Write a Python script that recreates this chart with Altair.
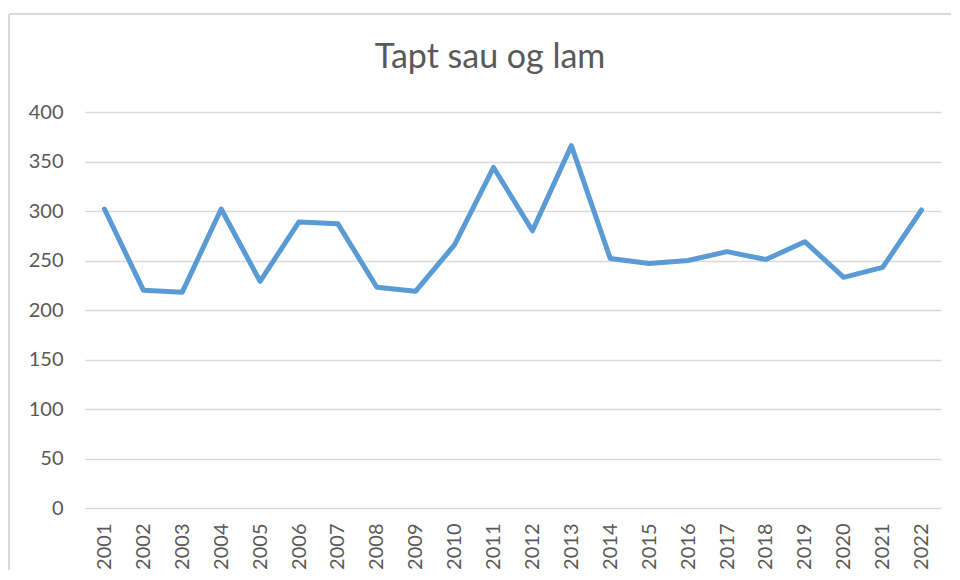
import altair as alt
import pandas as pd

years = [str(y) for y in range(2001, 2023)]
values = [302, 220, 218, 302, 229, 289, 287, 223, 219, 266, 344, 280, 366,
          252, 247, 250, 259, 251, 269, 233, 243, 301]
y_ticks = [0, 50, 100, 150, 200, 250, 300, 350, 400]
title_text = "Tapt sau og lam"

df = pd.DataFrame({"year": years, "value": values})

GRID = "#D9D9D9"
TEXT = "#595959"
FONT = "Lato"

line = alt.Chart(df).mark_line(
    color="#5B9BD5", strokeWidth=5, strokeCap="round", strokeJoin="round"
).encode(
    x=alt.X("year:O", sort=years, title=None,
            scale=alt.Scale(padding=0.5),
            axis=alt.Axis(labelAngle=-90, labelFontSize=20, labelFont=FONT,
                          labelColor=TEXT, ticks=False, tickSize=0,
                          domain=False, labelPadding=15, grid=False,
                          labelBaseline="middle", labelAlign="right")),
    y=alt.Y("value:Q", title=None,
            scale=alt.Scale(domain=[0, 400], nice=False),
            axis=alt.Axis(values=y_ticks, labelFontSize=20, labelFont=FONT,
                          labelColor=TEXT, ticks=False, tickSize=0,
                          domain=False, labelPadding=22, grid=True,
                          gridColor=GRID, gridWidth=1.5)),
)

# light chart-area frame (left and top edges), as in the spreadsheet original
frame_left = alt.Chart(df).mark_rule(color=GRID, strokeWidth=1.5).encode(
    x=alt.value(-76), y=alt.value(-98), y2=alt.value(480)
)
frame_top = alt.Chart(df).mark_rule(color=GRID, strokeWidth=1.5).encode(
    x=alt.value(-76), x2=alt.value(1000), y=alt.value(-98)
)

title = alt.Chart(pd.DataFrame({"t": [title_text]})).mark_text(
    font=FONT, fontSize=34, color=TEXT, align="center", baseline="alphabetic"
).encode(text="t:N", x=alt.value(405), y=alt.value(-44))

chart = alt.layer(frame_left, frame_top, line, title).properties(
    width=856, height=396,
    padding={"left": 77, "top": 104, "right": 10, "bottom": 62},
    autosize=alt.AutoSizeParams(type="none"),
).configure(background="white").configure_view(strokeWidth=0, stroke="transparent")

chart.save("out.html", embed_options={"renderer": "svg", "actions": False})
